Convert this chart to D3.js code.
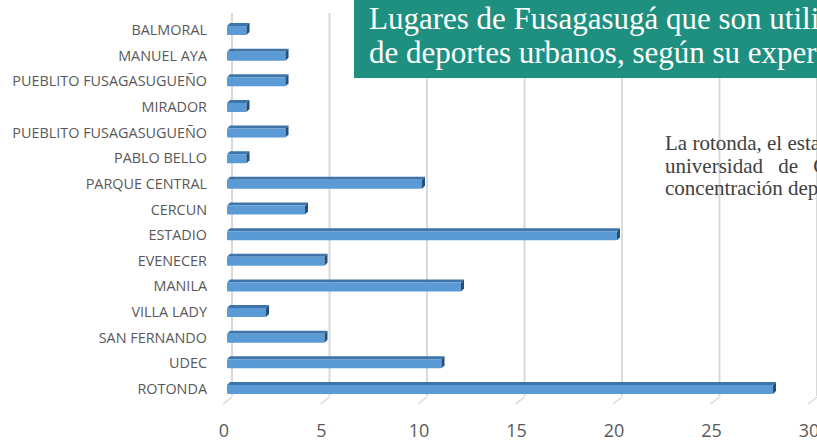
<!DOCTYPE html>
<html>
<head>
<meta charset="utf-8">
<script src="https://cdn.jsdelivr.net/npm/d3@7"></script>
<style>
  body { margin: 0; background: #fff; }
  svg { display: block; }
</style>
</head>
<body>
<div id="chart"></div>
<script>
// data, top to bottom
const places = [
  "BALMORAL", "MANUEL AYA", "PUEBLITO FUSAGASUGUEÑO", "MIRADOR",
  "PUEBLITO FUSAGASUGUEÑO", "PABLO BELLO", "PARQUE CENTRAL", "CERCUN",
  "ESTADIO", "EVENECER", "MANILA", "VILLA LADY", "SAN FERNANDO", "UDEC", "ROTONDA"
];
const counts = [1, 3, 3, 1, 3, 1, 10, 4, 20, 5, 12, 2, 5, 11, 28];
const xTicks = [0, 5, 10, 15, 20, 25, 30];
const titleLines = [
  "Lugares de Fusagasugá que son utilizados para la práctica",
  "de deportes urbanos, según su experiencia"
];
const noteLines = [
  "La rotonda, el estadio, el parque central y la",
  "universidad de Cundinamarca tienen mayor",
  "concentración deportiva"
];

const width = 817, height = 444;
const depth = 3;     // 3d offset of the bars
const shift = 5;     // bars sit in front of the back wall

const svg = d3.select("#chart").append("svg")
  .attr("width", width).attr("height", height);

const x = d3.scaleLinear().domain([0, 30]).range([232, 817]);
const y = d3.scalePoint().domain(d3.range(places.length)).range([30, 389]);
const barH = 12;

// gridlines (back wall) with the little floor tick
const grid = svg.append("g");
grid.selectAll("line.v").data(xTicks).join("line")
  .attr("class", "v")
  .attr("x1", d => x(d)).attr("x2", d => x(d))
  .attr("y1", 13).attr("y2", 396)
  .attr("stroke", "#d9d9d9").attr("stroke-width", 2);
grid.selectAll("line.f").data(xTicks).join("line")
  .attr("class", "f")
  .attr("x1", d => x(d)).attr("x2", d => x(d) - 9)
  .attr("y1", 397).attr("y2", 404)
  .attr("stroke", "#d9d9d9").attr("stroke-width", 1.5);

// tick labels
svg.append("g").selectAll("text").data(xTicks).join("text")
  .attr("x", d => x(d) - 8)
  .attr("y", 437)
  .attr("text-anchor", "middle")
  .attr("font-family", "Open Sans, sans-serif")
  .attr("font-size", 18)
  .attr("fill", "#595959")
  .text(d => d);

// category labels
svg.append("g").selectAll("text").data(places).join("text")
  .attr("x", 207)
  .attr("y", (d, i) => y(i))
  .attr("dy", "0.35em")
  .attr("text-anchor", "end")
  .attr("font-family", "Open Sans, sans-serif")
  .attr("font-size", 14.4)
  .attr("fill", "#595959")
  .text(d => d);

// bars
const bars = svg.append("g").selectAll("g").data(counts).join("g")
  .attr("transform", (d, i) => `translate(0,${y(i) - barH / 2 + 2})`);

bars.append("polygon") // top face
  .attr("points", d => {
    const x0 = x(0) - shift, x1 = x(d) - shift;
    return `${x0},0 ${x0 + depth},${-depth} ${x1 + depth},${-depth} ${x1},0`;
  })
  .attr("fill", "#3f74a8");
bars.append("rect") // front face
  .attr("x", x(0) - shift)
  .attr("y", 0)
  .attr("width", d => x(d) - x(0))
  .attr("height", barH - depth)
  .attr("rx", 1)
  .attr("fill", "#5b9bd5");
bars.append("polygon") // right face
  .attr("points", d => {
    const x1 = x(d) - shift;
    return `${x1},0 ${x1 + depth},${-depth} ${x1 + depth},${barH - 2 * depth} ${x1},${barH - depth}`;
  })
  .attr("fill", "#254f7a");

// title box
svg.append("rect")
  .attr("x", 354).attr("y", 0)
  .attr("width", width - 354).attr("height", 78)
  .attr("fill", "#1f8f7f");
svg.append("g").selectAll("text").data(titleLines).join("text")
  .attr("x", 369)
  .attr("y", (d, i) => 29 + i * 34)
  .attr("font-family", "Liberation Serif, serif")
  .attr("font-size", 31)
  .attr("fill", "#ffffff")
  .text(d => d);

// note beside the chart
svg.append("g").selectAll("text").data(noteLines).join("text")
  .attr("x", 665)
  .attr("y", (d, i) => 150 + i * 22.5)
  .attr("font-family", "Liberation Serif, serif")
  .attr("font-size", 21)
  .attr("fill", "#404040")
  .attr("word-spacing", (d, i) => i === 1 ? 10 : 0)
  .text(d => d);
</script>
</body>
</html>
